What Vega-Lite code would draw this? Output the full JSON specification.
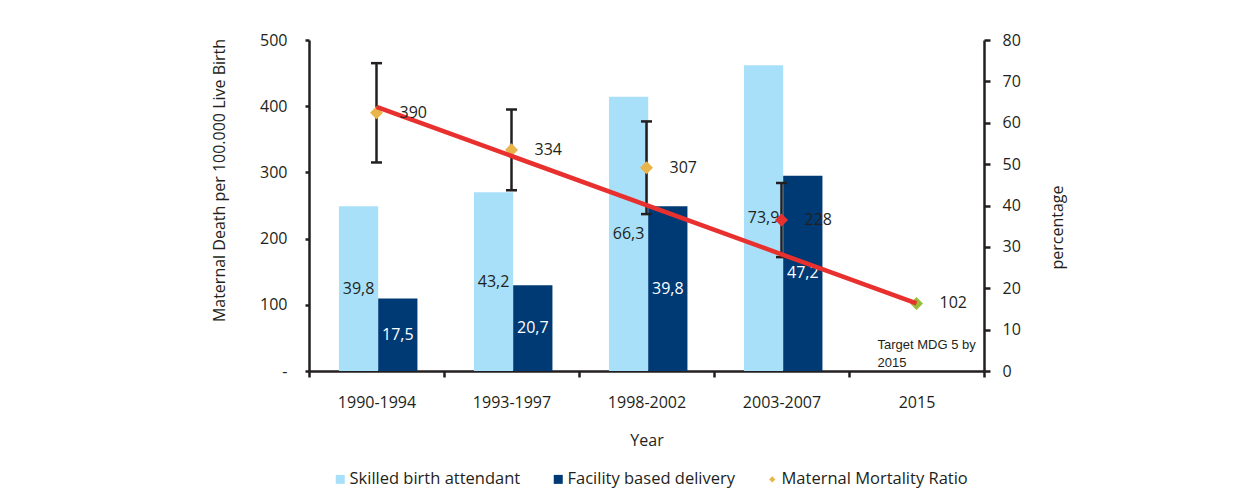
{
  "$schema": "https://vega.github.io/schema/vega-lite/v6.json",
  "width": 675,
  "height": 331,
  "autosize": {"type": "none"},
  "padding": {"left": 309, "top": 40, "right": 267, "bottom": 133},
  "background": "white",
  "config": {
    "font": "Open Sans",
    "locale": {"number": {"decimal": ",", "thousands": ".", "grouping": [3], "currency": ["", ""]}},
    "view": {"stroke": null},
    "axis": {
      "labelFont": "Open Sans", "labelFontSize": 16, "labelColor": "#231f20",
      "titleFont": "Open Sans", "titleFontSize": 16, "titleFontWeight": "normal", "titleColor": "#231f20",
      "domainColor": "#231f20", "domainWidth": 2.5, "tickColor": "#231f20", "tickWidth": 2.5, "grid": false
    }
  },
  "datasets": {
    "bars": [
      {"year": "1990-1994", "series": "Skilled birth attendant", "pct": 39.8},
      {"year": "1990-1994", "series": "Facility based delivery", "pct": 17.5},
      {"year": "1993-1997", "series": "Skilled birth attendant", "pct": 43.2},
      {"year": "1993-1997", "series": "Facility based delivery", "pct": 20.7},
      {"year": "1998-2002", "series": "Skilled birth attendant", "pct": 66.3},
      {"year": "1998-2002", "series": "Facility based delivery", "pct": 39.8},
      {"year": "2003-2007", "series": "Skilled birth attendant", "pct": 73.9},
      {"year": "2003-2007", "series": "Facility based delivery", "pct": 47.2}
    ],
    "mmr": [
      {"year": "1990-1994", "mmr": 390},
      {"year": "1993-1997", "mmr": 334},
      {"year": "1998-2002", "mmr": 307},
      {"year": "2003-2007", "mmr": 228},
      {"year": "2015", "mmr": 102}
    ],
    "ci": [
      {"year": "1990-1994", "low": 315, "high": 465},
      {"year": "1993-1997", "low": 273, "high": 395},
      {"year": "1998-2002", "low": 237, "high": 377},
      {"year": "2003-2007", "low": 172, "high": 284}
    ],
    "trend": [
      {"year": "1990-1994", "mmr": 399},
      {"year": "2015", "mmr": 102}
    ]
  },
  "encoding": {
    "x": {
      "field": "year", "type": "nominal",
      "scale": {"domain": ["1990-1994", "1993-1997", "1998-2002", "2003-2007", "2015"], "paddingInner": 0, "paddingOuter": 0},
      "axis": {"title": "Year", "labelAngle": 0, "tickBand": "extent", "tickSize": 6, "labelPadding": 17, "titleY": 69, "titleBaseline": "middle"}
    }
  },
  "layer": [
    {
      "data": {"name": "bars"},
      "mark": {"type": "bar"},
      "encoding": {
        "xOffset": {"field": "series", "type": "nominal", "scale": {"domain": ["Skilled birth attendant", "Facility based delivery"], "paddingInner": 0, "paddingOuter": 0.72, "align": 0.53}},
        "y": {
          "field": "pct", "type": "quantitative", "stack": null,
          "scale": {"domain": [0, 80], "nice": false},
          "axis": {"orient": "right", "title": "percentage", "values": [0, 10, 20, 30, 40, 50, 60, 70, 80], "tickSize": 6, "labelPadding": 12, "titleAngle": 270, "titleX": 73, "titleY": 187, "titleAlign": "center", "titleBaseline": "middle"}
        },
        "color": {
          "field": "series", "type": "nominal",
          "scale": {"domain": ["Skilled birth attendant", "Facility based delivery", "Maternal Mortality Ratio"], "range": ["#a8e0f9", "#003a75", "#e9b54a"]},
          "legend": {
            "orient": "none", "legendX": 23, "legendY": 431, "direction": "horizontal", "title": null,
            "labelFont": "Open Sans", "labelFontSize": 16.5, "labelColor": "#231f20", "labelLimit": 400,
            "symbolSize": 81, "symbolType": "square", "symbolStrokeWidth": 0, "columnPadding": 29, "labelOffset": 1,
            "encode": {"symbols": {"update": {
              "shape": {"signal": "datum.value === 'Maternal Mortality Ratio' ? 'diamond' : 'square'"},
              "size": {"signal": "datum.value === 'Maternal Mortality Ratio' ? 40 : 81"},
              "opacity": {"value": 1}
            }}}
          }
        }
      }
    },
    {
      "data": {"name": "bars"},
      "mark": {"type": "text", "fontSize": 16, "baseline": "middle", "font": "Open Sans"},
      "encoding": {
        "xOffset": {"field": "series", "type": "nominal", "scale": {"domain": ["Skilled birth attendant", "Facility based delivery"], "paddingInner": 0, "paddingOuter": 0.72, "align": 0.53}},
        "y": {"field": "pct", "type": "quantitative", "stack": null, "scale": {"domain": [0, 160], "nice": false}, "axis": null},
        "text": {"field": "pct", "type": "quantitative", "format": ".1f"},
        "color": {"condition": {"test": "datum.series === 'Facility based delivery'", "value": "white"}, "value": "#231f20"}
      }
    },
    {
      "layer": [
        {
          "data": {"name": "ci"},
          "mark": {"type": "rule", "color": "#231f20", "strokeWidth": 2.5},
          "encoding": {
            "y": {
              "field": "low", "type": "quantitative",
              "scale": {"domain": [0, 500], "nice": false},
              "axis": {"orient": "left", "title": "Maternal Death per 100.000 Live Birth", "values": [0, 100, 200, 300, 400, 500], "labelExpr": "datum.value === 0 ? '-' : datum.label", "tickSize": 4, "labelPadding": 18, "titleX": -90, "titleY": 140, "titleAngle": 270, "titleAlign": "center", "titleBaseline": "middle"}
            },
            "y2": {"field": "high"}
          }
        },
        {
          "data": {"name": "ci"},
          "mark": {"type": "tick", "orient": "horizontal", "size": 11, "thickness": 2.5, "color": "#231f20", "opacity": 1},
          "encoding": {"y": {"field": "low", "type": "quantitative"}}
        },
        {
          "data": {"name": "ci"},
          "mark": {"type": "tick", "orient": "horizontal", "size": 11, "thickness": 2.5, "color": "#231f20", "opacity": 1},
          "encoding": {"y": {"field": "high", "type": "quantitative"}}
        },
        {
          "data": {"name": "mmr"},
          "mark": {"type": "point", "shape": "diamond", "filled": true, "size": 170, "opacity": 1},
          "encoding": {
            "y": {"field": "mmr", "type": "quantitative"},
            "color": {
              "datum": "Maternal Mortality Ratio", "type": "nominal",
              "condition": [
                {"test": "datum.year === '2003-2007'", "value": "#e8302f"},
                {"test": "datum.year === '2015'", "value": "#9bbb3a"}
              ]
            }
          }
        },
        {
          "data": {"name": "trend"},
          "mark": {"type": "line", "color": "#e8302f", "strokeWidth": 4.5},
          "encoding": {"y": {"field": "mmr", "type": "quantitative"}}
        },
        {
          "data": {"name": "mmr"},
          "mark": {"type": "text", "align": "left", "dx": 23, "baseline": "middle", "fontSize": 16, "font": "Open Sans", "color": "#231f20"},
          "encoding": {
            "y": {"field": "mmr", "type": "quantitative"},
            "text": {"field": "mmr", "type": "quantitative", "format": "d"}
          }
        },
        {
          "data": {"values": [{}]},
          "mark": {"type": "text", "align": "left", "dx": -39, "baseline": "middle", "font": "Liberation Sans", "fontSize": 13, "lineHeight": 18, "color": "#231f20", "text": ["Target MDG 5 by", "2015"]},
          "encoding": {"x": {"datum": "2015"}, "y": {"datum": 39, "type": "quantitative"}}
        }
      ]
    }
  ],
  "resolve": {"scale": {"y": "independent"}}
}
